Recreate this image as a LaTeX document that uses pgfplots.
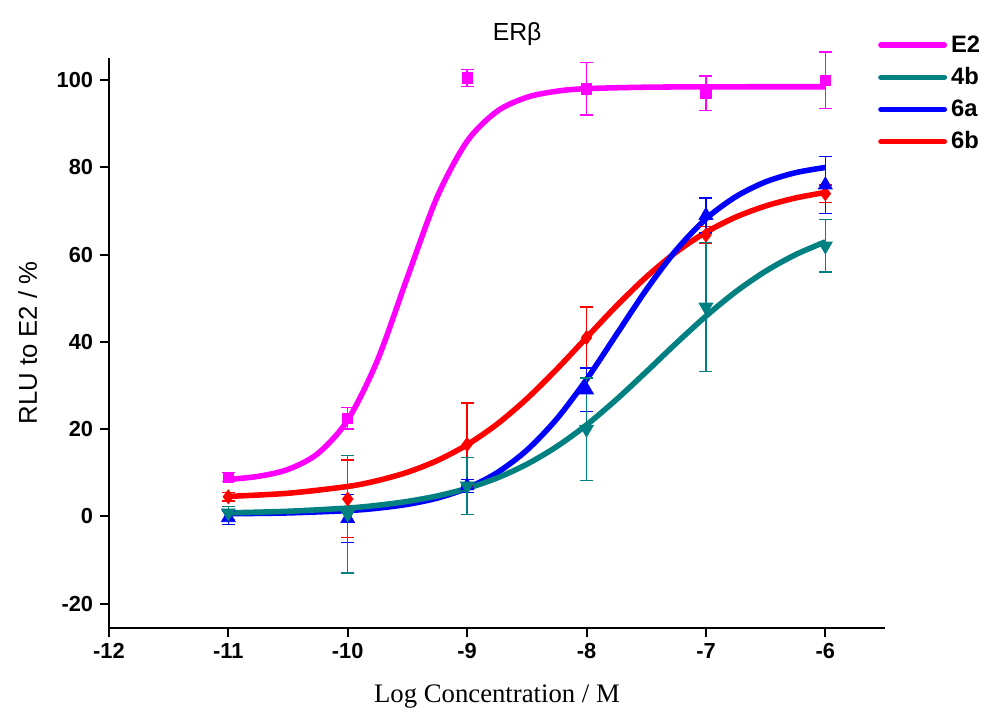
\documentclass[border=0pt]{standalone}
\usepackage{fontspec}
\setmainfont{Liberation Sans}
\newfontfamily\serifx{Liberation Serif}
\usepackage{pgfplots}
\pgfplotsset{compat=1.18}
\usetikzlibrary{calc}

\definecolor{cE}{RGB}{255,0,255}
\definecolor{cT}{RGB}{0,128,128}
\definecolor{cB}{RGB}{0,0,255}
\definecolor{cR}{RGB}{255,0,0}

% measured points: x, mean, error
\pgfplotstableread{
x y e
-11 9 1
-10 22.5 2.5
-9 100.5 2
-8 98 6
-7 97 4
-6 100 6.5
}\tabE
\pgfplotstableread{
x y e
-11 0.8 1.5
-10 0.5 13.5
-9 7 6.5
-8 20 11.7
-7 48 14.8
-6 62 6
}\tabT
\pgfplotstableread{
x y e
-11 -0.3 1.5
-10 -0.5 5.5
-9 7 1.5
-8 29 5
-7 69 4
-6 76 6.5
}\tabB
\pgfplotstableread{
x y e
-11 4.5 1
-10 4 8.9
-9 16.5 9.5
-8 41 7
-7 64.5 2
-6 74 2
}\tabR

\begin{document}
\begin{tikzpicture}
\begin{axis}[
    scale only axis, width=392pt, height=287.5pt,
    xmin=-12, xmax=-5.5, ymin=-25.5, ymax=105,
    axis lines*=left, axis line style={line width=1pt},
    xtick={-12,-11,-10,-9,-8,-7,-6},
    xticklabels={-12,-11,-10,-9,-8,-7,-6},
    ytick={-20,0,20,40,60,80,100},
    yticklabels={-20,0,20,40,60,80,100},
    tick align=outside, major tick length=4.5pt,
    tick style={line width=1pt, black},
    ticklabel style={font=\fontsize{11}{13}\selectfont\bfseries},
    clip=false,
    legend style={at={(axis description cs:0.983,1.055)}, anchor=north west,
        draw=none, fill=none, font=\fontsize{12}{14}\selectfont\bfseries,
        row sep=2.2pt, cells={anchor=west}},
    legend image code/.code={\draw[#1, line cap=round] (0pt,0pt) -- (32pt,0pt);},
    errbar/.style={only marks,
        error bars/y dir=both, error bars/y explicit,
        error bars/error bar style={line width=0.7pt},
        error bars/error mark options={rotate=90, mark size=3.3pt, line width=0.7pt}},
]
% fitted curves
\addplot[cR, line width=2.8pt, smooth, forget plot] coordinates {
(-11,4.59) (-10.5,5.31) (-10,6.87) (-9.75,8.21) (-9.5,10.13) (-9.25,12.81)
(-9,16.43) (-8.75,21.14) (-8.5,26.97) (-8.25,33.73) (-8,41.0) (-7.75,48.24)
(-7.5,54.88) (-7.25,60.58) (-7,65.14) (-6.75,68.62) (-6.5,71.17) (-6.25,73.0) (-6,74.28)};
\addplot[cB, line width=2.8pt, smooth, forget plot] coordinates {
(-11,0.61) (-10.5,0.80) (-10,1.33) (-9.75,1.88) (-9.5,2.77) (-9.25,4.20)
(-9,6.48) (-8.75,10.0) (-8.5,15.18) (-8.25,22.33) (-8,31.39) (-7.75,41.67)
(-7.5,51.94) (-7.25,61.03) (-7,68.22) (-6.75,73.3) (-6.5,76.7) (-6.25,78.8) (-6,80.0)};
\addplot[cT, line width=2.8pt, smooth, forget plot] coordinates {
(-11,0.82) (-10.5,1.18) (-10,1.92) (-9.75,2.55) (-9.5,3.44) (-9.25,4.69)
(-9,6.43) (-8.75,8.80) (-8.5,11.96) (-8.25,16.0) (-8,20.98) (-7.75,26.79)
(-7.5,33.15) (-7.25,39.67) (-7,45.91) (-6.75,51.51) (-6.5,56.22) (-6.25,60.01) (-6,62.94)};
\addplot[cE, line width=2.8pt, smooth, forget plot] coordinates {
(-11,8.49) (-10.75,9.18) (-10.5,10.78) (-10.25,14.42) (-10,22.09) (-9.75,35.85)
(-9.5,54.84) (-9.25,73.29) (-9,86.01) (-8.75,92.86) (-8.5,96.08) (-8.25,97.48)
(-8,98.07) (-7.5,98.4) (-7,98.48) (-6.5,98.5) (-6,98.5)};
% measured points with error bars
\addplot[cR, errbar, mark=diamond*, mark size=3.5pt, forget plot] table[x=x, y=y, y error=e] {\tabR};
\addplot[cB, errbar, mark=triangle*, mark size=4pt, forget plot] table[x=x, y=y, y error=e] {\tabB};
\addplot[cT, errbar, mark=triangle*, mark size=4pt, mark options={rotate=180}, forget plot] table[x=x, y=y, y error=e] {\tabT};
\addplot[cE, errbar, mark=square*, mark size=2.6pt, forget plot] table[x=x, y=y, y error=e] {\tabE};
% legend
\addlegendimage{cE, line width=2.8pt}
\addlegendentry{E2}
\addlegendimage{cT, line width=2.8pt}
\addlegendentry{4b}
\addlegendimage{cB, line width=2.8pt}
\addlegendentry{6a}
\addlegendimage{cR, line width=2.8pt}
\addlegendentry{6b}
\coordinate (O) at (rel axis cs:0,0);
\coordinate (E) at (rel axis cs:1,1);
\end{axis}
\node[font=\fontsize{12.5}{14}\selectfont] at ($(O|-E)!0.526!(E) + (0,12.5pt)$) {ERβ};
\node[rotate=90, font=\fontsize{13}{15}\selectfont] at ($(O)!0.5!(O|-E) + (-41pt,0)$) {RLU to E2 / \%};
\node[font=\fontsize{13.5}{15}\selectfont\serifx] at ($(O)!0.5!(O-|E) + (0,-35pt)$) {Log Concentration / M};
\path ($(O) + (-55pt,-41.5pt)$) rectangle ($(E) + (48pt,29.5pt)$);
\end{tikzpicture}
\end{document}
